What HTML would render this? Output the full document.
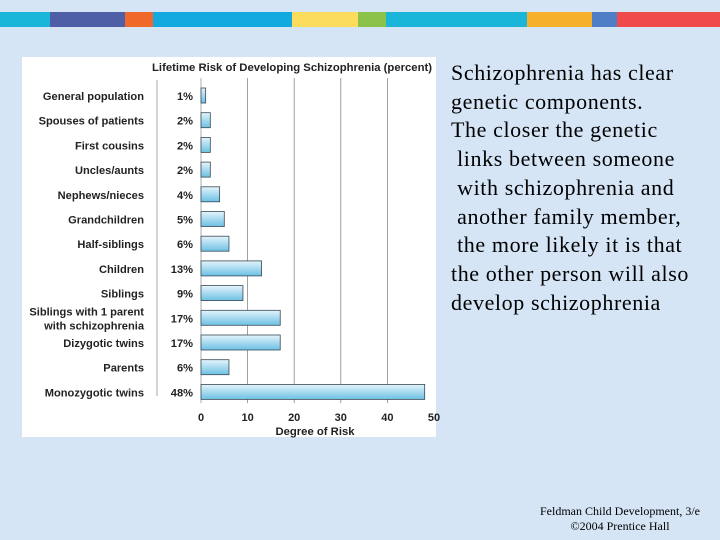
<!DOCTYPE html>
<html><head><meta charset="utf-8"><style>
html,body{margin:0;padding:0}
body{width:720px;height:540px;overflow:hidden;position:relative;background:#d5e5f6;font-family:"Liberation Sans",sans-serif}
.seg{position:absolute;top:12px;height:15px}
.txt{position:absolute;left:451px;top:59px;font-family:"Liberation Serif",serif;font-size:22px;letter-spacing:0.6px;line-height:28.7px;color:#000;white-space:pre}
.foot{position:absolute;left:520px;width:200px;text-align:center;font-family:"Liberation Serif",serif;font-size:12px;color:#000}
</style></head><body>
<div>
<div class="seg" style="left:0;width:50px;background:#1ab6d9"></div>
<div class="seg" style="left:50px;width:75px;background:#4e5fa8"></div>
<div class="seg" style="left:125px;width:28px;background:#f0692a"></div>
<div class="seg" style="left:153px;width:139px;background:#12a9e0"></div>
<div class="seg" style="left:292px;width:66px;background:#fbdc5c"></div>
<div class="seg" style="left:358px;width:28px;background:#8bc34a"></div>
<div class="seg" style="left:386px;width:141px;background:#1ab6d9"></div>
<div class="seg" style="left:527px;width:65px;background:#f7b02a"></div>
<div class="seg" style="left:592px;width:25px;background:#4f7ec6"></div>
<div class="seg" style="left:617px;width:103px;background:#ef4b4b"></div>
</div>
<svg id="chart" style="position:absolute;left:0;top:0" width="720" height="540">
<defs><linearGradient id="g" x1="0" y1="0" x2="0" y2="1"><stop offset="0" stop-color="#e4f4fb"/><stop offset="1" stop-color="#6cc0e4"/></linearGradient></defs>
<rect x="22" y="57" width="414" height="380" fill="#fff"/>
<text x="432" y="71" text-anchor="end" font-size="11.3" font-weight="bold" fill="#222">Lifetime Risk of Developing Schizophrenia (percent)</text>
<line x1="157" y1="80" x2="157" y2="396" stroke="#aaa" stroke-width="1"/>
<g id="grid"></g><g id="bars"></g><g id="labels"></g>
<text x="315" y="435" text-anchor="middle" font-size="11.3" font-weight="bold" fill="#222">Degree of Risk</text>
</svg>
<div class="txt">Schizophrenia has clear
genetic components.
The closer the genetic
 links between someone
 with schizophrenia and
 another family member,
 the more likely it is that
the other person will also
develop schizophrenia</div>
<div class="foot" style="top:504px">Feldman Child Development, 3/e</div>
<div class="foot" style="top:519px">©2004 Prentice Hall</div>
<script>
const categories=["General population","Spouses of patients","First cousins","Uncles/aunts","Nephews/nieces","Grandchildren","Half-siblings","Children","Siblings","Siblings with 1 parent|with schizophrenia","Dizygotic twins","Parents","Monozygotic twins"];
const values=[1,2,2,2,4,5,6,13,9,17,17,6,48];
const ticks=[0,10,20,30,40,50];
const NS="http://www.w3.org/2000/svg";
const x0=201,x1=434,vmax=50,y0=96,step=24.7;
const xs=v=>x0+(x1-x0)*v/vmax;
const ys=i=>y0+i*step;
function mk(t,a,p){const e=document.createElementNS(NS,t);for(const k in a)e.setAttribute(k,a[k]);p.appendChild(e);return e;}
const grid=document.getElementById('grid'),bars=document.getElementById('bars'),labels=document.getElementById('labels');
ticks.forEach(t=>{
 if(t>0&&t<vmax){const l=mk('line',{x1:xs(t),x2:xs(t),y1:78,y2:403,stroke:'#888','stroke-width':0.8},grid);
 
 }
 const tx=mk('text',{x:xs(t),y:421,'text-anchor':'middle','font-size':11,'font-weight':'bold',fill:'#222'},labels);
 tx.textContent=t;
 
 
});
mk('line',{x1:x0,x2:x0,y1:78,y2:403,stroke:'#999','stroke-width':0.8},grid);
categories.forEach((c,i)=>{
 const y=ys(i);
 const b=mk('rect',{x:x0,y:y-8,width:xs(values[i])-x0,height:15,fill:'url(#g)',stroke:'#3a4a55','stroke-width':0.8},bars);
 
 
 const parts=c.split('|');
 parts.forEach((p,j)=>{
  const t=mk('text',{x:144,y:y+4+(parts.length>1?(j*14-7):0),'text-anchor':'end','font-size':11.1,'font-weight':'bold',fill:'#222'},labels);
  t.textContent=p;
  
  
 });
 const v=mk('text',{x:193,y:y+4,'text-anchor':'end','font-size':11.1,'font-weight':'bold',fill:'#222'},labels);
 v.textContent=values[i]+'%';
 
 
});
</script>
</body></html>
